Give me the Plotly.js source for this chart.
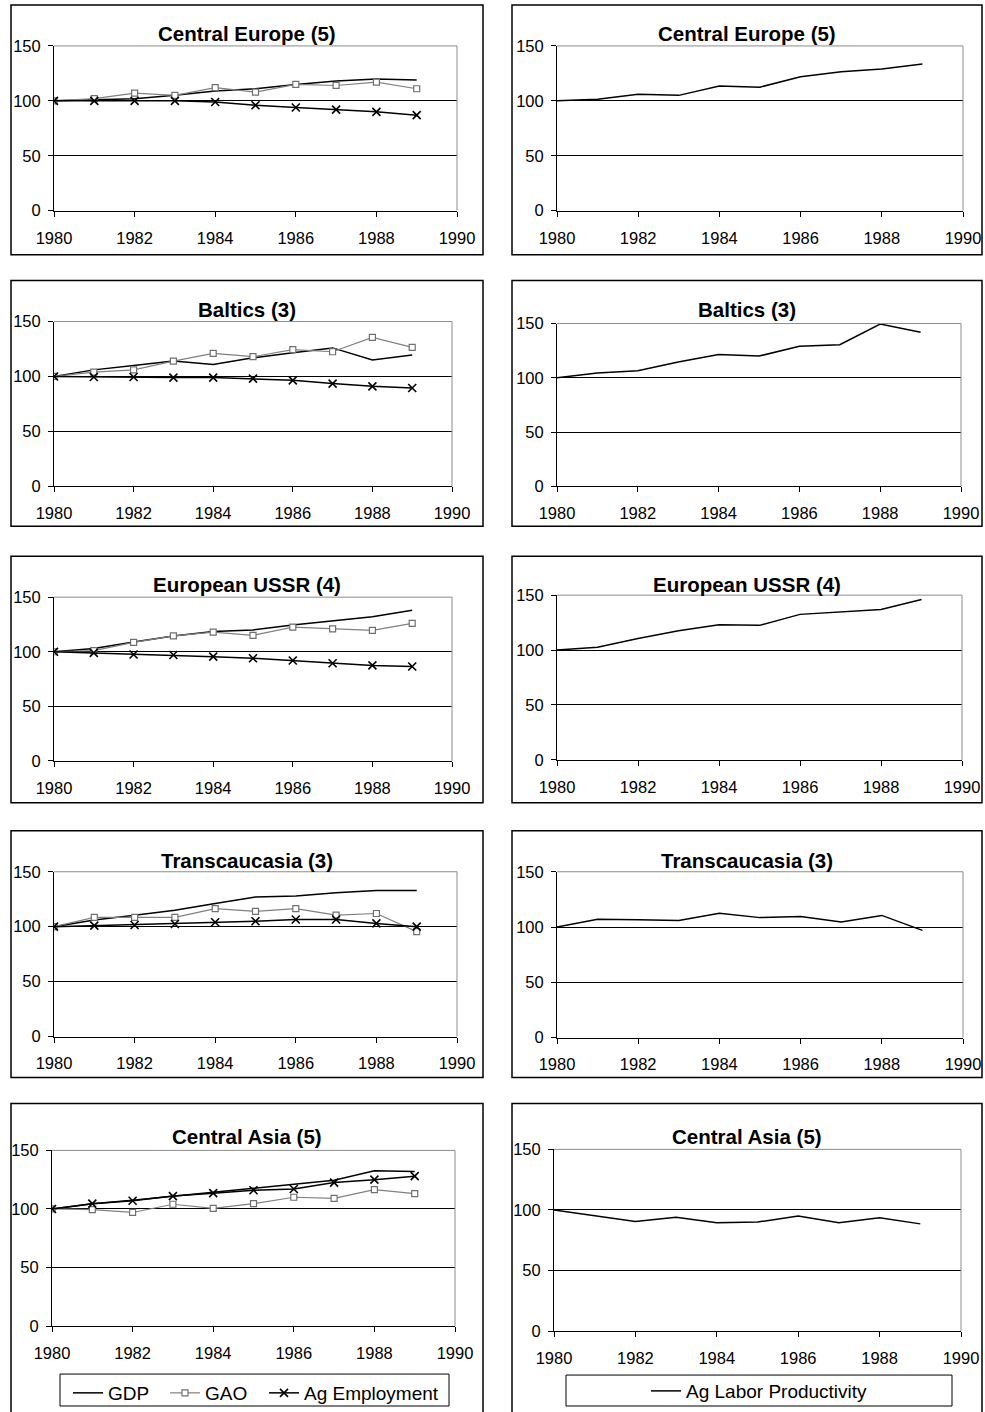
<!DOCTYPE html>
<html>
<head>
<meta charset="utf-8">
<script src="https://cdn.plot.ly/plotly-3.0.1.min.js"></script>
<style>
  html, body { margin: 0; padding: 0; background: #fff; }
  #chart { width: 985px; height: 1412px; }
</style>
</head>
<body>
<div id="chart"></div>
<script>
// Index values, 1980 = 100
const years = [1980, 1981, 1982, 1983, 1984, 1985, 1986, 1987, 1988, 1989];

const regionTitles = ['Central Europe (5)', 'Baltics (3)', 'European USSR (4)', 'Transcaucasia (3)', 'Central Asia (5)'];
const seriesNames = ['GDP', 'GAO', 'Ag Employment'];
const productivityName = 'Ag Labor Productivity';

const ceGDP  = [100, 101, 102, 105, 109, 111, 115, 118, 120, 119];
const ceGAO  = [100, 102, 107, 105, 112, 108, 115, 114, 117, 111];
const ceEmp  = [100, 100, 100, 100, 99, 96, 94, 92, 90, 87];
const ceProd = [100, 101.5, 106, 105, 113.5, 112.5, 122, 126.5, 129, 133.5];

const blGDP  = [100, 106, 110, 114, 111, 117, 121.5, 126, 115, 119.5];
const blGAO  = [100, 104, 106, 114, 121, 118, 124.5, 122.5, 135.5, 126.5];
const blEmp  = [100, 99.5, 99.5, 99, 99, 98, 96.5, 93.5, 91, 89.5];
const blProd = [100, 104.5, 106.5, 114.5, 121.5, 120, 129, 130.5, 149.5, 142];

const euGDP  = [100, 103, 109, 114.5, 118.5, 120, 124.5, 128.5, 132, 138];
const euGAO  = [100, 101, 108.5, 114.5, 118, 115, 122.5, 121, 119.5, 126];
const euEmp  = [100, 99, 97.5, 97, 95.5, 94, 92, 89.5, 87.5, 86.5];
const euProd = [100, 102.5, 110.5, 117.5, 123, 122.5, 132.5, 134.5, 137, 146];

const tcGDP  = [100, 106, 110.5, 115, 121, 127, 128, 131, 133, 133];
const tcGAO  = [100, 108.5, 108.5, 108.5, 116.5, 114, 116.5, 110.5, 112, 95.5];
const tcEmp  = [100, 101, 101.5, 102.5, 104, 105, 106.5, 106.5, 103, 100];
const tcProd = [100, 107, 106.5, 106, 112.5, 108.5, 109.5, 104.5, 110.5, 97];

const caGDP  = [100, 104.5, 107.5, 111, 114.5, 118, 121, 124.5, 132.5, 132];
const caGAO  = [100, 99.5, 97, 104, 100.5, 104.5, 110, 109, 116.5, 113];
const caEmp  = [100, 104.5, 107, 111, 113.5, 116, 117, 122.5, 125, 128];
const caProd = [100, 95, 90.5, 94, 89.5, 90, 95, 89.5, 93.5, 88.5];

const leftSeries  = [[ceGDP, ceGAO, ceEmp], [blGDP, blGAO, blEmp], [euGDP, euGAO, euEmp], [tcGDP, tcGAO, tcEmp], [caGDP, caGAO, caEmp]];
const rightSeries = [ceProd, blProd, euProd, tcProd, caProd];

// ---- page geometry (pixels) ----
const W = 985, H = 1412;
const FONT = 'Liberation Sans, Arial, Helvetica, sans-serif';

// plot areas: [left, right, top(150), bottom(0)]
const leftPlots  = [[54, 457, 46, 211], [54, 452, 322, 487], [54, 452, 598, 762], [54, 457, 873, 1038], [52, 455, 1152, 1328]];
const rightPlots = [[557, 963, 46, 211], [557, 961, 324, 487], [557, 962, 596, 761], [557, 963, 873, 1039], [554, 961, 1151, 1333]];
// chart frames: [top, bottom]
const frameRows = [[5, 255], [281, 527], [557, 804], [832, 1079], [1105, 1440]];
const leftFrameX = [11, 483], rightFrameX = [512, 982];
const titleY = [34, 310, 585, 862, 1138];

const px = v => v / W;
const py = v => 1 - v / H;

function legendAt(x, y) {
  return {
    orientation: 'h', x: px(x), xanchor: 'left', y: py(y), yanchor: 'middle',
    bgcolor: 'rgba(0,0,0,0)', borderwidth: 0,
    font: { family: FONT, size: 19, color: '#000' }
  };
}

const layout = {
  width: W, height: H,
  margin: { l: 0, r: 0, t: 0, b: 0 },
  paper_bgcolor: '#fff', plot_bgcolor: '#fff',
  font: { family: FONT, color: '#000', size: 16.5 },
  showlegend: true,
  shapes: [], annotations: [],
  legend: legendAt(68, 1395),   // GDP
  legend3: legendAt(165, 1395), // GAO
  legend4: legendAt(264, 1395), // Ag Employment
  legend2: legendAt(646, 1393)  // Ag Labor Productivity
};
const leftLegendIds = ['legend', 'legend3', 'legend4'];

const traces = [];

function addAxes(idx, box) {
  const [x0, x1, yT, yB] = box;
  const xa = idx === 1 ? 'xaxis' : 'xaxis' + idx;
  const ya = idx === 1 ? 'yaxis' : 'yaxis' + idx;
  layout[xa] = {
    domain: [px(x0), px(x1)], anchor: idx === 1 ? 'y' : 'y' + idx,
    range: [1980, 1990], tickvals: [1980, 1982, 1984, 1986, 1988, 1990],
    ticks: 'outside', ticklen: 5, tickwidth: 1, tickcolor: '#000',
    showline: true, linecolor: '#000', linewidth: 1,
    showgrid: false, zeroline: false, fixedrange: true,
    tickfont: { family: FONT, size: 16.5, color: '#000' }, ticklabelstandoff: 7
  };
  layout[ya] = {
    domain: [py(yB), py(yT)], anchor: idx === 1 ? 'x' : 'x' + idx,
    range: [0, 150], tickvals: [0, 50, 100, 150],
    ticks: 'outside', ticklen: 5, tickwidth: 1, tickcolor: '#000',
    showline: true, linecolor: '#000', linewidth: 1,
    showgrid: true, gridcolor: '#000', gridwidth: 1, zeroline: false, fixedrange: true,
    tickfont: { family: FONT, size: 16.5, color: '#000' }, ticklabelstandoff: 4
  };
  // grey plot-area border on top and right
  const xr = (idx === 1 ? 'x' : 'x' + idx) + ' domain';
  const yr = (idx === 1 ? 'y' : 'y' + idx) + ' domain';
  layout.shapes.push({ type: 'line', xref: xr, yref: yr, x0: 0, x1: 1, y0: 1, y1: 1, line: { color: '#8c8c8c', width: 1 }, layer: 'above' });
  layout.shapes.push({ type: 'line', xref: xr, yref: yr, x0: 1, x1: 1, y0: 0, y1: 1, line: { color: '#8c8c8c', width: 1 }, layer: 'above' });
}

for (let r = 0; r < 5; r++) {
  const li = r * 2 + 1, ri = r * 2 + 2;
  addAxes(li, leftPlots[r]);
  addAxes(ri, rightPlots[r]);
  const lx = li === 1 ? 'x' : 'x' + li, ly = li === 1 ? 'y' : 'y' + li;
  const rx = 'x' + ri, ry = 'y' + ri;
  const [gdp, gao, emp] = leftSeries[r];

  traces.push({
    x: years, y: gdp, xaxis: lx, yaxis: ly, type: 'scatter', mode: 'lines',
    name: seriesNames[0], legend: leftLegendIds[0], showlegend: r === 0,
    line: { color: '#000', width: 1.5 }
  });
  traces.push({
    x: years, y: gao, xaxis: lx, yaxis: ly, type: 'scatter', mode: 'lines+markers',
    name: seriesNames[1], legend: leftLegendIds[1], showlegend: r === 0,
    line: { color: '#808080', width: 1.2 },
    marker: { symbol: 'square', size: 6, color: '#fff', line: { color: '#707070', width: 1.2 } }
  });
  traces.push({
    x: years, y: emp, xaxis: lx, yaxis: ly, type: 'scatter', mode: 'lines+markers',
    name: seriesNames[2], legend: leftLegendIds[2], showlegend: r === 0,
    line: { color: '#000', width: 1.5 },
    marker: { symbol: 'x-thin', size: 8, color: '#000', line: { color: '#000', width: 1.6 } }
  });
  traces.push({
    x: years, y: rightSeries[r], xaxis: rx, yaxis: ry, type: 'scatter', mode: 'lines',
    name: productivityName, legend: 'legend2', showlegend: r === 0,
    line: { color: '#000', width: 1.5 }
  });

  // chart frames and titles
  const [fT, fB] = frameRows[r];
  [leftFrameX, rightFrameX].forEach(fx => {
    layout.shapes.push({
      type: 'rect', xref: 'paper', yref: 'paper',
      x0: px(fx[0]), x1: px(fx[1]), y0: py(fB), y1: py(fT),
      line: { color: '#000', width: 1.5 }, fillcolor: 'rgba(0,0,0,0)', layer: 'below'
    });
    layout.annotations.push({
      xref: 'paper', yref: 'paper', x: px((fx[0] + fx[1]) / 2), y: py(titleY[r]),
      xanchor: 'center', yanchor: 'middle', showarrow: false,
      text: '<b>' + regionTitles[r] + '</b>',
      font: { family: FONT, size: 20.5, color: '#000' }
    });
  });
}

// legend frames
layout.shapes.push({ type: 'rect', xref: 'paper', yref: 'paper', x0: px(60), x1: px(449), y0: py(1408), y1: py(1376), line: { color: '#000', width: 1 }, layer: 'below' });
layout.shapes.push({ type: 'rect', xref: 'paper', yref: 'paper', x0: px(566), x1: px(952), y0: py(1408), y1: py(1377), line: { color: '#000', width: 1 }, layer: 'below' });

Plotly.newPlot('chart', traces, layout, { displayModeBar: false, staticPlot: true });
</script>
</body>
</html>
